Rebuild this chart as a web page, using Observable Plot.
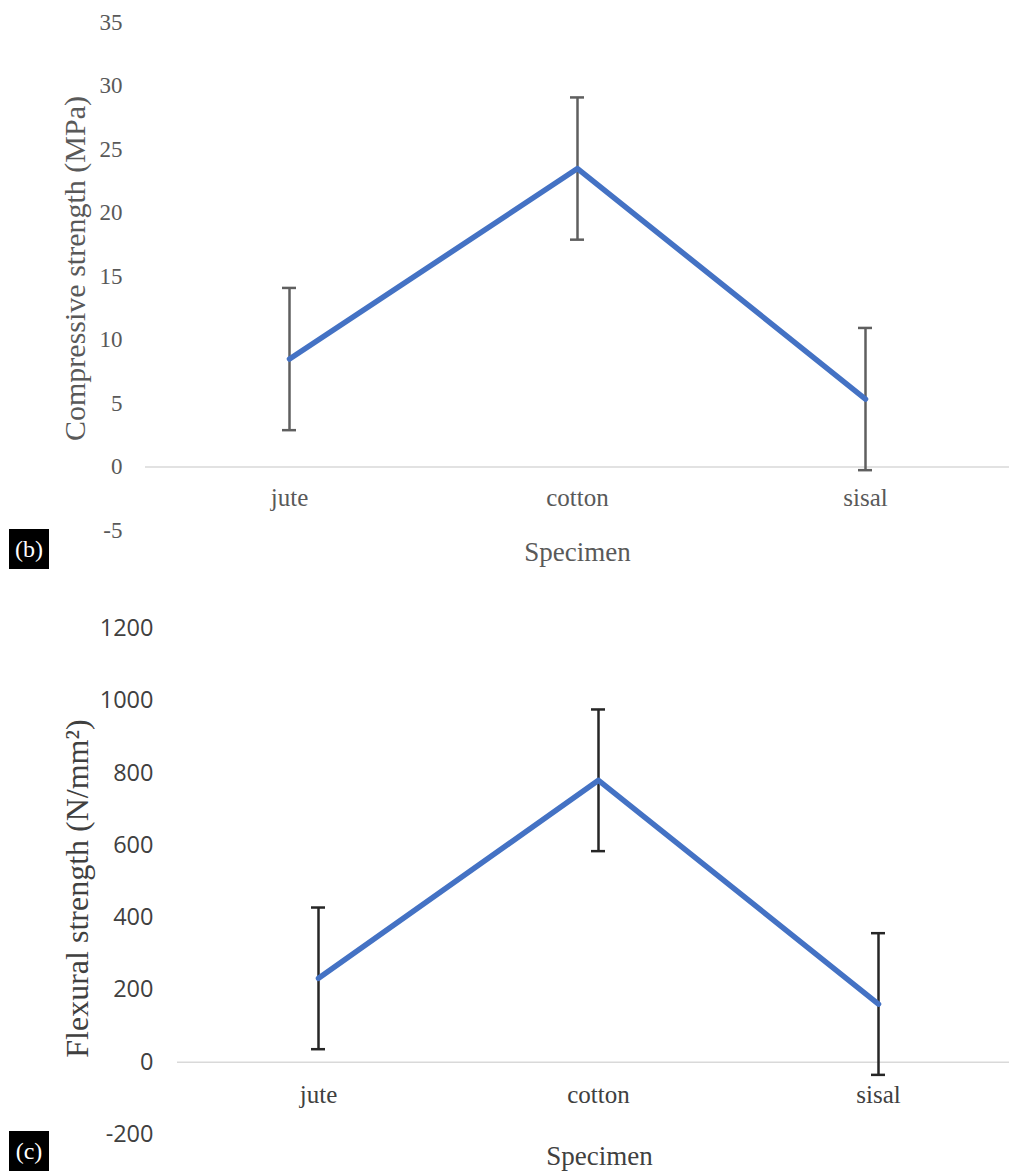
<!DOCTYPE html>
<html><head><meta charset="utf-8">
<script src="https://cdn.jsdelivr.net/npm/d3@7"></script>
<script src="https://cdn.jsdelivr.net/npm/@observablehq/plot@0.6"></script>
<style>
body{margin:0;background:#fff;}
#wrap{position:relative;width:1009px;height:1171px;overflow:hidden;background:#fff;}
.panel{position:absolute;left:0;}
.tag{position:absolute;left:9px;width:40px;height:40px;background:#000;color:#fff;font:24px "Liberation Serif",serif;display:flex;align-items:center;justify-content:center;}
</style></head><body>
<div id="wrap">
 <div id="p1" class="panel" style="top:0"></div>
 <div id="p2" class="panel" style="top:590px"></div>
 <div class="tag" style="top:529px">(b)</div>
 <div class="tag" style="top:1131px">(c)</div>
</div>
<script>
// ---- data ----
const specimens = ["jute", "cotton", "sisal"];
const compressive = [8.5, 23.5, 5.35];
const compressiveErr = [5.6, 5.6, 5.6];
const compressiveTicks = [-5, 0, 5, 10, 15, 20, 25, 30, 35];
const flexural = [232, 780, 161];
const flexuralErr = [196, 196, 196];
const flexuralTicks = [-200, 0, 200, 400, 600, 800, 1000, 1200];
const compressiveLabel = "Compressive strength (MPa)";
const flexuralLabel = "Flexural strength (N/mm²)";
const xTitle = "Specimen";

function chart(o) {
  const data = specimens.map((s, i) => ({s, v: o.values[i], e: o.errs[i]}));
  const serif = "Liberation Serif, Times New Roman, serif";
  return Plot.plot({
    width: 1009, height: o.height,
    marginTop: o.marginTop, marginBottom: o.marginBottom,
    marginLeft: o.marginLeft, marginRight: 0,
    x: {type: "band", domain: specimens, range: o.xRange, padding: 0, axis: null},
    y: {domain: [o.ticks[0], o.ticks[o.ticks.length - 1]], axis: null},
    style: {background: "white", overflow: "visible", fontFamily: serif},
    marks: [
      Plot.ruleY([0], {stroke: "#d9d9d9", strokeWidth: 1.5}),
      Plot.axisY(o.ticks, {tickSize: 0, tickPadding: o.tickPadding, fontSize: o.tickFontSize,
        fontFamily: o.tickFont, color: o.tickColor, label: null, tickFormat: d => String(d)}),
      Plot.ruleX(data, {x: "s", y1: d => d.v - d.e, y2: d => d.v + d.e, stroke: o.errColor, strokeWidth: 2.5}),
      Plot.tickY(data, {x: "s", y: d => d.v - d.e, insetLeft: o.capInset, insetRight: o.capInset, stroke: o.errColor, strokeWidth: 2.5}),
      Plot.tickY(data, {x: "s", y: d => d.v + d.e, insetLeft: o.capInset, insetRight: o.capInset, stroke: o.errColor, strokeWidth: 2.5}),
      Plot.line(data, {x: "s", y: "v", stroke: "#4472C4", strokeWidth: 5.5, strokeLinecap: "round", strokeLinejoin: "round"}),
      Plot.text(data, {x: "s", y: () => 0, text: "s", dy: o.xLabelDy, lineAnchor: "middle",
        fontSize: 25, fill: o.textColor, fontFamily: serif}),
      Plot.text([o.yLabel], {frameAnchor: "left", textAnchor: "middle", lineAnchor: "middle", rotate: -90,
        dx: o.yLabelDx, dy: o.yLabelDy, fontSize: o.yLabelSize, fill: o.textColor, fontFamily: serif}),
      Plot.text([xTitle], {frameAnchor: "bottom", textAnchor: "middle", dx: o.titleDx, dy: o.titleDy, lineAnchor: "middle",
        fontSize: 27, fill: o.textColor, fontFamily: serif})
    ]
  });
}

document.getElementById("p1").append(chart({
  values: compressive, errs: compressiveErr, ticks: compressiveTicks,
  height: 590, marginTop: 22, marginBottom: 60, marginLeft: 145, xRange: [145, 1009],
  tickPadding: 23, tickFontSize: 23, tickFont: "Liberation Serif, serif", tickColor: "#595959",
  errColor: "#5f5f5f", capInset: 137, xLabelDy: 31, textColor: "#595959",
  yLabel: compressiveLabel, yLabelDx: -70, yLabelDy: -8, yLabelSize: 30,
  titleDx: 0, titleDy: 22
}));

document.getElementById("p2").append(chart({
  values: flexural, errs: flexuralErr, ticks: flexuralTicks,
  height: 581, marginTop: 38, marginBottom: 37, marginLeft: 177, xRange: [177, 1018.5],
  tickPadding: 24, tickFontSize: 23.5, tickFont: "Open Sans, sans-serif", tickColor: "#404040",
  errColor: "#262626", capInset: 133, xLabelDy: 33, textColor: "#404040",
  yLabel: flexuralLabel, yLabelDx: -100, yLabelDy: 7, yLabelSize: 32,
  titleDx: 6, titleDy: 22
}));
</script>
</body></html>
